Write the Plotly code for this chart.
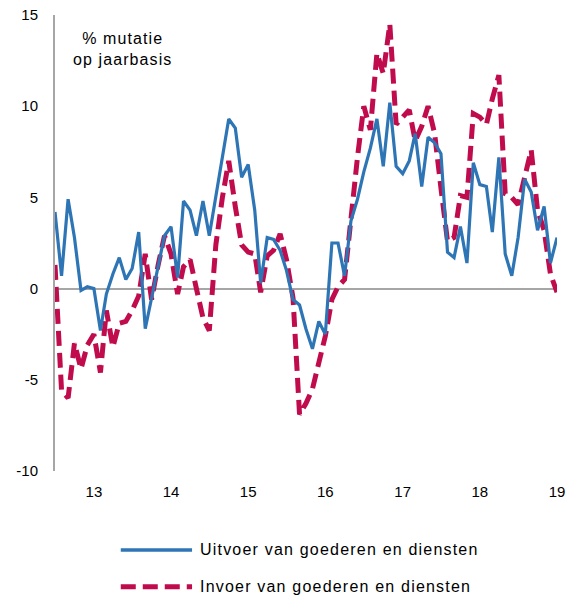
import pandas as pd
import plotly.graph_objects as go

# Monthly data, July 2012 - January 2019 (% year-on-year change)
start_month = "2012-07-01"
n_months = 79

uitvoer = [4.2, 0.7, 4.9, 2.8, -0.1, 0.1, 0.0, -2.3, -0.3, 0.8, 1.7, 0.5,
           1.1, 3.1, -2.2, -0.5, 1.2, 2.9, 3.4, 0.6, 4.8, 4.3, 2.9, 4.8,
           2.9, 5.1, 7.3, 9.3, 8.8, 6.1, 6.8, 4.3, 0.3, 2.8, 2.7, 2.1,
           1.0, -0.6, -0.9, -2.2, -3.3, -1.8, -2.5, 2.5, 2.5, 0.7, 3.7, 4.9,
           6.4, 7.7, 9.3, 6.7, 10.2, 6.7, 6.3, 7.0, 8.5, 5.6, 8.3, 8.0,
           7.4, 2.0, 1.7, 3.4, 1.4, 6.9, 5.7, 5.6, 3.1, 7.2, 1.9, 0.7,
           2.8, 6.0, 5.3, 3.2, 4.5, 1.4, 2.8]

invoer = [1.3, -5.6, -6.0, -3.0, -4.4, -3.1, -2.5, -4.6, -1.2, -3.2, -1.9, -1.8,
          -1.2, -0.4, 1.9, -0.6, 1.3, 2.9, 1.9, -0.3, 1.2, 1.6, 0.0, -1.6,
          -2.3, 2.4, 5.0, 7.0, 4.5, 2.4, 2.0, 1.9, -0.2, 1.8, 2.1, 3.0,
          1.6, -0.5, -6.9, -6.3, -5.5, -4.1, -2.6, -0.6, 0.1, 0.5, 4.0, 7.2,
          10.0, 8.7, 12.9, 11.8, 14.5, 9.0, 9.4, 9.8, 8.1, 8.9, 10.0, 8.5,
          5.5, 2.6, 2.8, 5.1, 5.0, 9.6, 9.4, 9.0, 10.4, 11.7, 5.2, 5.0,
          4.6, 6.0, 7.6, 4.3, 3.2, 0.8, -0.2]

series_names = ["Uitvoer van goederen en diensten", "Invoer van goederen en diensten"]
x_tick_values = ["2013-01-01", "2014-01-01", "2015-01-01", "2016-01-01",
                 "2017-01-01", "2018-01-01", "2019-01-01"]
x_tick_labels = ["13", "14", "15", "16", "17", "18", "19"]
y_tick_values = [-10, -5, 0, 5, 10, 15]
y_tick_labels = ["-10", "-5", "0", "5", "10", "15"]
unit_lines = ["% mutatie", "op jaarbasis"]

BLUE = "#2E75B6"
RED = "#C00B4C"
AXIS_GREY = "#A6A6A6"
FONT = "Liberation Sans, Arial, sans-serif"


def spaced(text, px):
    return f'<span style="letter-spacing:{px}px">{text}</span>'


months = pd.date_range(start_month, periods=n_months, freq="MS")

fig = go.Figure()
fig.add_trace(go.Scatter(x=months, y=invoer, mode="lines", name=series_names[1],
                         line=dict(color=RED, width=5, dash="15px,7px"),
                         showlegend=False))
fig.add_trace(go.Scatter(x=months, y=uitvoer, mode="lines", name=series_names[0],
                         line=dict(color=BLUE, width=3.2),
                         showlegend=False))

# Custom legend (line samples + labels) below the plot
legend_rows = [
    (series_names[0], BLUE, 3.5, "solid", -0.173),
    (series_names[1], RED, 5, "15px,7px", -0.254),
]
for name, color, width, dash, ypos in legend_rows:
    fig.add_shape(type="line", xref="paper", yref="paper",
                  x0=0.131, x1=0.273, y0=ypos, y1=ypos,
                  line=dict(color=color, width=width, dash=dash))
    fig.add_annotation(text=spaced(name, 1.2), xref="paper", yref="paper",
                       x=0.284, y=ypos, xanchor="left", yanchor="middle",
                       showarrow=False, font=dict(size=16, color="#000000", family=FONT))

fig.add_annotation(text="<br>".join(spaced(t, 1.1) for t in unit_lines),
                   xref="paper", yref="paper",
                   x=0.135, y=0.925, xanchor="center", yanchor="middle",
                   showarrow=False, align="center",
                   font=dict(size=16, color="#000000", family=FONT))

fig.update_layout(
    width=573, height=601,
    margin=dict(l=55, r=16, t=15, b=130, autoexpand=False),
    paper_bgcolor="white", plot_bgcolor="white",
    font=dict(family=FONT, size=15, color="#000000"),
    xaxis=dict(range=[start_month, "2019-01-01"], tickmode="array",
               tickvals=x_tick_values, ticktext=x_tick_labels,
               showgrid=False, zeroline=False, showline=False, ticks="",
               automargin=False, ticklabelstandoff=10, tickfont=dict(size=15)),
    yaxis=dict(range=[-10, 15], tickmode="array",
               tickvals=y_tick_values, ticktext=y_tick_labels,
               showgrid=False, zeroline=True, zerolinecolor=AXIS_GREY, zerolinewidth=2,
               showline=True, linecolor=AXIS_GREY, linewidth=2, ticks="",
               automargin=False, ticklabelstandoff=12, tickfont=dict(size=15)),
)

fig.write_html("out.html",
               config={"displayModeBar": False},
               post_script="document.body.style.margin='0';document.body.style.overflow='hidden';")
